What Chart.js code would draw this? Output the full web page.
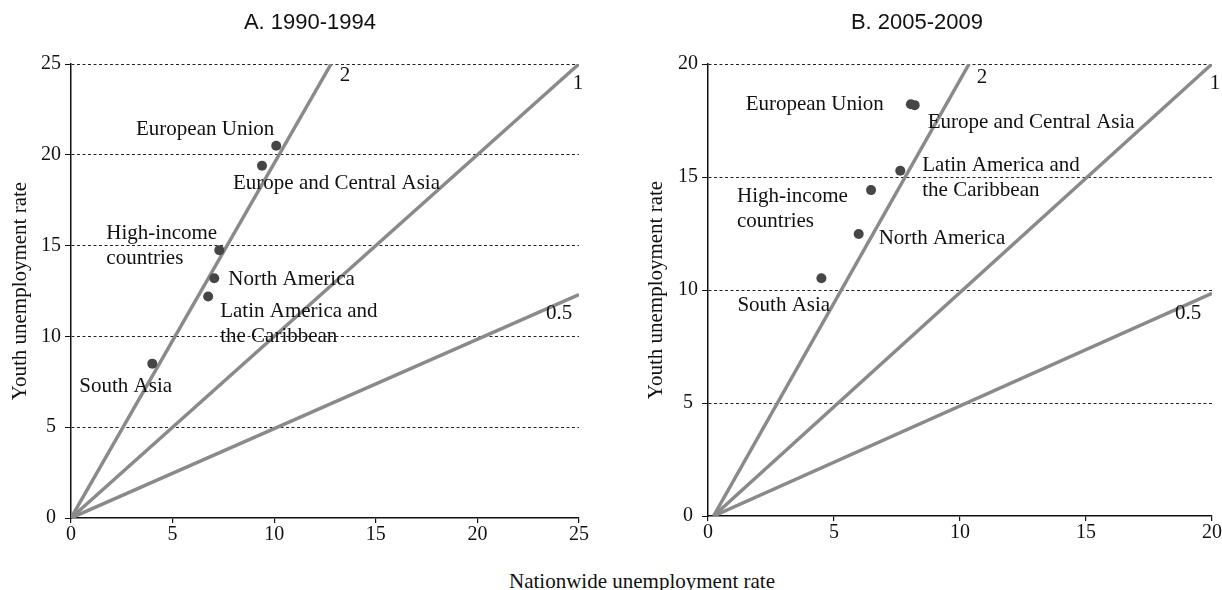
<!DOCTYPE html>
<html>
<head>
<meta charset="utf-8">
<script src="https://cdn.jsdelivr.net/npm/chart.js@4"></script>
<style>
  body { margin: 0; background: #fff; width: 1222px; height: 590px; position: relative; overflow: hidden; }
  canvas { position: absolute; top: 0; }
  #xtitle { position: absolute; left: 392px; width: 500px; top: 569px; text-align: center;
            font: 21px "Liberation Serif"; line-height: 24px; color: #111; }
</style>
</head>
<body>
<canvas id="chartA" width="620" height="560" style="left:0"></canvas>
<canvas id="chartB" width="608" height="558" style="left:614px"></canvas>
<div id="xtitle">Nationwide unemployment rate</div>
<script>
// regions (label lines)
const regions = [
  ['European Union'],
  ['Europe and Central Asia'],
  ['High-income', 'countries'],
  ['North America'],
  ['Latin America and', 'the Caribbean'],
  ['South Asia']
];

// A. 1990-1994
const nationA = [10.1, 9.4, 7.3, 7.05, 6.75, 4.0];
const youthA = [20.5, 19.4, 14.75, 13.2, 12.2, 8.5];
// B. 2005-2009
const nationB = [8.05, 8.2, 6.47, 5.98, 7.63, 4.5];
const youthB = [18.22, 18.18, 14.42, 12.48, 15.28, 10.52];

// ratio lines youth/nationwide = 2, 1, 0.5
const ratioNames = ['2', '1', '0.5'];
const ratioStartA = [0, 0];
const ratioEndXA = [12.8, 25, 25];
const ratioEndYA = [25, 25, 12.3];
const ratioStartB = [0.22, 0];
const ratioEndXB = [10.36, 20, 20];
const ratioEndYB = [20, 20, 9.85];

const ticksA = [0, 5, 10, 15, 20, 25];
const ticksB = [0, 5, 10, 15, 20];

// label placement (pixel offsets from the point)
const labelPosA = [[-2, -11, 'right'], [-29, 23, 'left'], [-113, -11, 'left'], [14, 7, 'left'], [12, 21, 'left'], [-73, 28, 'left']];
const labelPosB = [[-27, 6, 'right'], [13, 23, 'left'], [-134, 12, 'left'], [20, 10, 'left'], [22, 0, 'left'], [-84, 33, 'left']];
const ratioPosA = [[14, 11], [-1, 19], [-20, 19]];
const ratioPosB = [[13, 13], [3, 19], [-24, 20]];

const serif = '"Liberation Serif", "Times New Roman", serif';

const textPlugin = {
  id: 'textLabels',
  afterDatasetsDraw(chart, args, opts) {
    const ctx = chart.ctx;
    const xs = chart.scales.x, ys = chart.scales.y;
    ctx.save();
    // panel title
    ctx.fillStyle = '#111';
    ctx.font = '22px "Liberation Sans", Arial, sans-serif';
    ctx.textAlign = 'center';
    ctx.textBaseline = 'middle';
    ctx.fillText(opts.title, opts.titleX, 23);

    ctx.font = '21px ' + serif;
    opts.items.forEach(it => {
      const px = xs.getPixelForValue(it.x) + it.dx;
      const py = ys.getPixelForValue(it.y) + it.dy;
      ctx.textAlign = it.align;
      ctx.textBaseline = it.baseline;
      it.text.forEach((line, i) => ctx.fillText(line, px, py + i * 25));
    });
    ctx.restore();
  }
};

function makeChart(id, cfg) {
  const items = [];
  regions.forEach((r, i) => items.push({
    x: cfg.nation[i], y: cfg.youth[i], text: r,
    dx: cfg.labelPos[i][0], dy: cfg.labelPos[i][1], align: cfg.labelPos[i][2], baseline: 'alphabetic'
  }));
  ratioNames.forEach((n, i) => items.push({
    x: cfg.endX[i], y: cfg.endY[i], text: [n],
    dx: cfg.ratioPos[i][0], dy: cfg.ratioPos[i][1], align: 'center', baseline: 'middle'
  }));

  const datasets = [{
    data: cfg.nation.map((x, i) => ({ x: x, y: cfg.youth[i] })),
    pointRadius: 5,
    pointBackgroundColor: '#464646',
    pointBorderColor: '#464646',
    pointBorderWidth: 0,
    showLine: false
  }];
  ratioNames.forEach((n, i) => datasets.push({
    label: n,
    data: [{ x: cfg.start[0], y: cfg.start[1] }, { x: cfg.endX[i], y: cfg.endY[i] }],
    showLine: true,
    borderColor: '#8a8a8a',
    borderWidth: 3.5,
    pointRadius: 0
  }));

  return new Chart(document.getElementById(id), {
    type: 'scatter',
    data: { datasets: datasets },
    options: {
      responsive: false,
      animation: false,
      events: [],
      layout: { padding: { left: cfg.padLeft, right: cfg.padRight, top: 64, bottom: 0 } },
      plugins: {
        legend: { display: false },
        tooltip: { enabled: false },
        title: { display: false },
        textLabels: { items: items, title: cfg.title, titleX: cfg.titleX }
      },
      scales: {
        x: {
          type: 'linear',
          min: 0, max: cfg.max,
          afterBuildTicks: s => { s.ticks = cfg.ticks.map(v => ({ value: v })); },
          afterFit: s => { s.height = 42; },
          grid: { drawOnChartArea: false, drawTicks: true, tickLength: 5, tickColor: '#111', lineWidth: 1.2 },
          border: { color: '#111', width: 1.5 },
          ticks: { color: '#111', padding: 0, font: { family: serif, size: 20 } }
        },
        y: {
          type: 'linear',
          min: 0, max: cfg.max,
          afterBuildTicks: s => { s.ticks = cfg.ticks.map(v => ({ value: v })); },
          afterFit: s => { s.width = cfg.yWidth; },
          grid: {
            color: c => c.tick && c.tick.value === 0 ? 'rgba(0,0,0,0)' : '#222',
            lineWidth: 1,
            drawTicks: true, tickLength: 6, tickColor: '#111'
          },
          border: { color: '#111', width: 1.5, dash: [3, 2.5] },
          ticks: { color: '#111', padding: 4, crossAlign: 'center', font: { family: serif, size: 20 } },
          title: {
            display: true,
            text: 'Youth unemployment rate',
            color: '#111',
            font: { family: serif, size: 21 },
            padding: { top: 7.4, bottom: 0 }
          }
        }
      }
    },
    plugins: [textPlugin]
  });
}

makeChart('chartA', {
  title: 'A. 1990-1994', titleX: 310, nation: nationA, youth: youthA, max: 25, ticks: ticksA,
  start: ratioStartA, endX: ratioEndXA, endY: ratioEndYA,
  labelPos: labelPosA, ratioPos: ratioPosA, padLeft: 0, padRight: 41, yWidth: 71
});
makeChart('chartB', {
  title: 'B. 2005-2009', titleX: 303, nation: nationB, youth: youthB, max: 20, ticks: ticksB,
  start: ratioStartB, endX: ratioEndXB, endY: ratioEndYB,
  labelPos: labelPosB, ratioPos: ratioPosB, padLeft: 22, padRight: 10, yWidth: 72
});
</script>
</body>
</html>
